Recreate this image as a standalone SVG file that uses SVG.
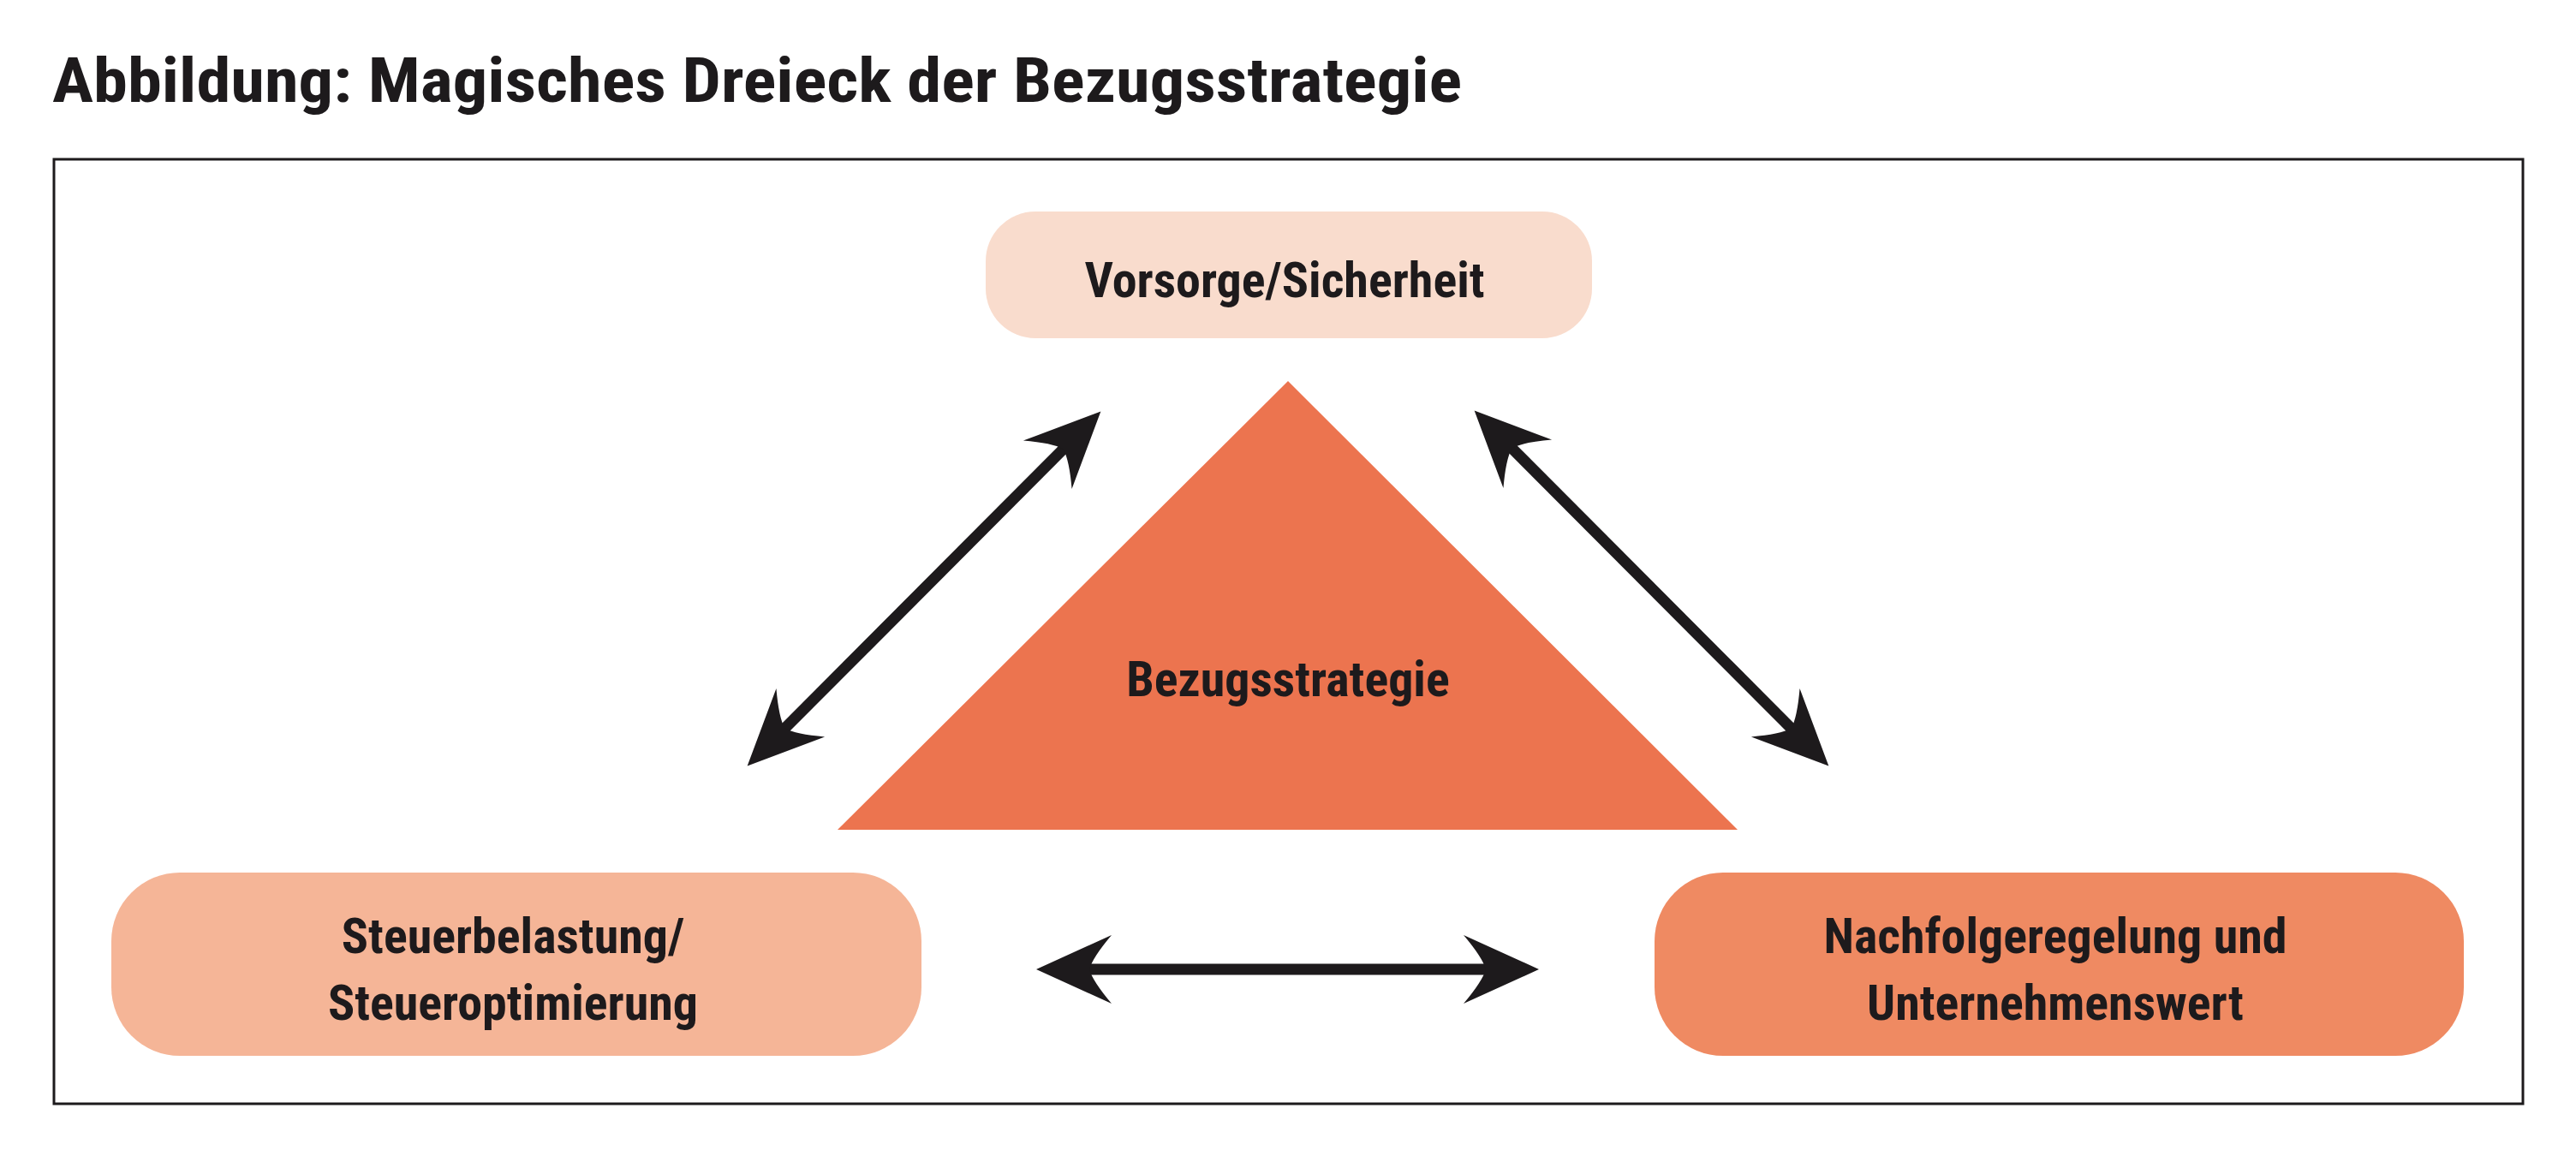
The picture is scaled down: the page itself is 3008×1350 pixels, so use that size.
<svg xmlns="http://www.w3.org/2000/svg" width="3008" height="1350" viewBox="0 0 3008 1350">
<style>
text{font-family:"Liberation Sans Narrow","Roboto Condensed","Liberation Sans",sans-serif;font-weight:bold;fill:#1d1a1c;text-anchor:middle}
.lbl{font-size:58px}
.con{stroke:#1d1a1c;stroke-width:13;fill:none;marker-start:url(#ah);marker-end:url(#ah)}
</style>
<defs>
<marker id="ah" markerUnits="userSpaceOnUse" markerWidth="200" markerHeight="200" viewBox="-100 -100 200 200" refX="0" refY="0" orient="auto-start-reverse" overflow="visible">
<path d="M60 0 L-28 -40 Q-6 -14 -2 0 Q-6 14 -28 40 Z" fill="#1d1a1c"/>
</marker>
</defs>
<rect width="3008" height="1350" fill="#fff"/>
<text x="61" y="119" style="font-size:72px;text-anchor:start" textLength="1646" lengthAdjust="spacingAndGlyphs">Abbildung: Magisches Dreieck der Bezugsstrategie</text>
<rect x="63" y="186" width="2883" height="1103" fill="none" stroke="#1d1a1c" stroke-width="3"/>
<g id="vorsorge">
<rect x="1151" y="247" width="708" height="148" rx="58" fill="#f9dccd"/>
<text class="lbl" x="1500" y="347">Vorsorge/Sicherheit</text>
</g>
<g id="bezugsstrategie">
<polygon points="1504,445 978,969 2029,969" fill="#ec744f"/>
<text class="lbl" x="1504" y="813">Bezugsstrategie</text>
</g>
<g id="steuer">
<rect x="130" y="1019" width="946" height="214" rx="80" fill="#f5b597"/>
<text class="lbl" x="599" y="1113">Steuerbelastung/</text>
<text class="lbl" x="599" y="1191">Steueroptimierung</text>
</g>
<g id="nachfolge">
<rect x="1932" y="1019" width="945" height="214" rx="80" fill="#ef8a62"/>
<text class="lbl" x="2400" y="1113">Nachfolgeregelung und</text>
<text class="lbl" x="2400" y="1191">Unternehmenswert</text>
</g>
<g id="connectors">
<line class="con" x1="915" y1="852" x2="1243" y2="523"/>
<line class="con" x1="1764" y1="522" x2="2093" y2="852"/>
<line class="con" x1="1270" y1="1132" x2="1737" y2="1132"/>
</g>
</svg>
